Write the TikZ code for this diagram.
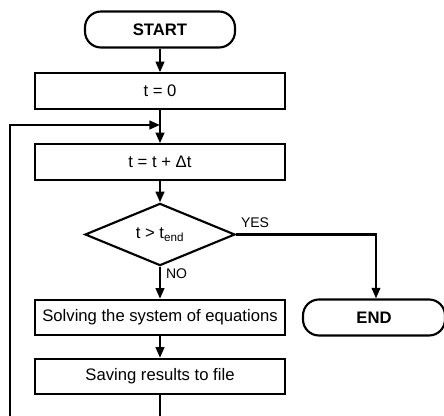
\documentclass[tikz,border=0pt]{standalone}
\usepackage{fontspec}
\setmainfont{Liberation Sans}
\usetikzlibrary{%
	arrows.meta,%
	shapes.geometric
}

\begin{document}
\begin{tikzpicture}[x=0.75pt,y=-0.75pt,
		line width=1.6pt,
		font=\fontsize{12.5}{15}\selectfont,
		>={Triangle[length=8pt,width=6.5pt]},
		terminal/.style={draw,rectangle,rounded corners=12pt,inner sep=0pt,
			minimum height=27pt,font=\fontsize{12.5}{15}\selectfont\bfseries},
		process/.style={draw,rectangle,inner sep=0pt,minimum width=187.5pt,
			minimum height=26.5pt},
		decision/.style={draw,diamond,inner sep=0pt,minimum width=112.5pt,
			minimum height=45.75pt},
		answer/.style={inner sep=0pt,font=\fontsize{10.5}{12}\selectfont}
	]
	\useasboundingbox (0,0) rectangle (444,416);
	
	% Main column
	\node[terminal,minimum width=112.5pt] (start) at (160,29.5) {START};
	\node[process] (init) at (160,91) {t = 0};
	\node[process] (incr) at (160,162) {t = t + Δt};
	\node[decision] (check) at (160,234.5) {t > t\textsubscript{end}};
	\node[process] (solve) at (160,317.5) {Solving the system of equations};
	\node[process] (save) at (160,376.5) {Saving results to file};
	
	% Exit
	\node[terminal,minimum width=106.5pt] (finish) at (374,317.5) {END};
	\coordinate (corner) at (376,234.5);
	
	% Loop back
	\coordinate (merge) at (160,125);
	\coordinate (bottom) at (160,416);
	\coordinate (back) at (10,416);
	
	\draw[->] (start) -- (init);
	\draw[->] (init) -- (incr);
	\draw[->] (incr) -- (check);
	\draw[->] (check) -- (solve);
	\draw[->] (solve) -- (save);
	\draw (save) -- (bottom);
	\draw[->] (back) |- (merge);
	\draw[->] (check.east) -- (corner) -- (corner |- finish.north);
	
	% Branch labels
	\node[answer,anchor=south west] (yes) at (240,229) {YES};
	\node[answer,anchor=north west] (no) at (165,268) {NO};
\end{tikzpicture}
\end{document}
